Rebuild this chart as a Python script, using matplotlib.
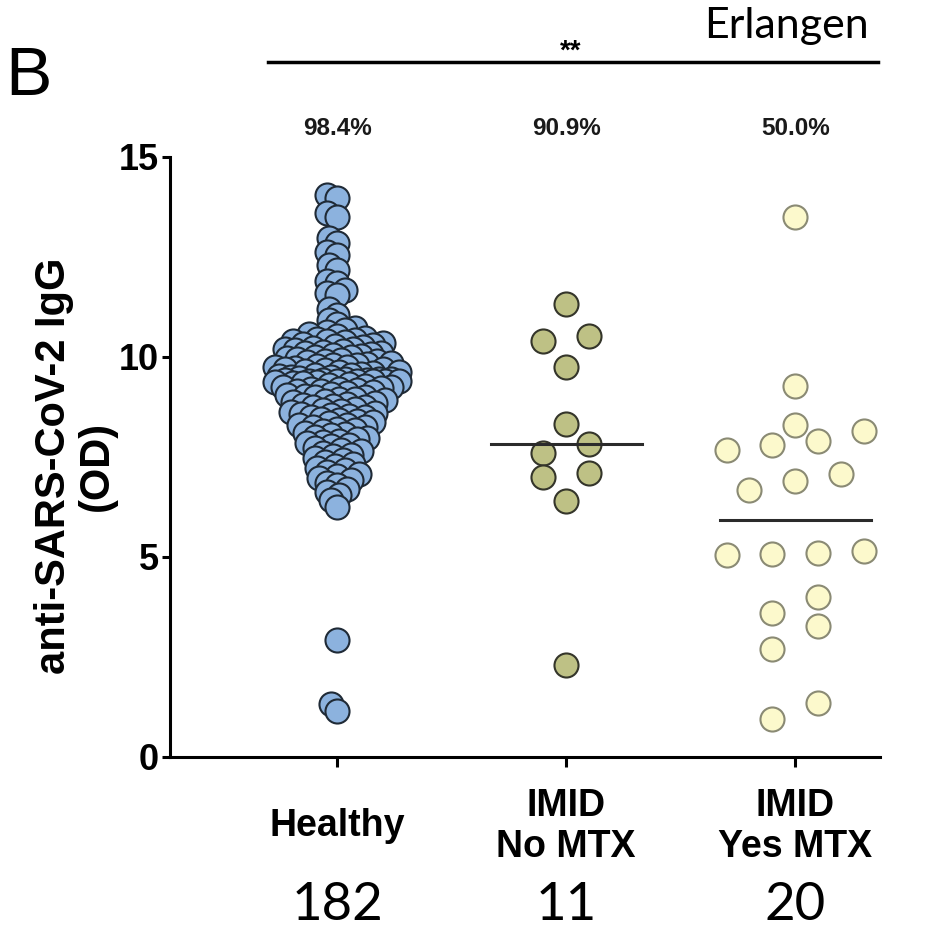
import numpy as np
import matplotlib
matplotlib.use('Agg')
import matplotlib.pyplot as plt

plt.rcParams['font.family'] = ['Liberation Sans', 'DejaVu Sans']

# group names, positivity and sample sizes
groups = ['Healthy', 'IMID\nNo MTX', 'IMID\nYes MTX']
percent_labels = ['98.4%', '90.9%', '50.0%']
count_labels = ['182', '11', '20']

# anti-SARS-CoV-2 IgG (OD)
healthy = [
    14.05, 13.97, 13.60, 13.50, 12.97, 12.85, 12.63, 12.55, 12.30, 12.18,
    11.90, 11.85, 11.67, 11.60, 11.55, 11.20, 11.05,
    10.93, 10.82, 10.72, 10.67, 10.62, 10.58, 10.53,
    10.48, 10.45, 10.43, 10.41, 10.39, 10.37, 10.34, 10.32, 10.30, 10.28, 10.26,
    10.23, 10.21, 10.19, 10.17, 10.15, 10.13, 10.11, 10.09, 10.07, 10.05, 10.03, 10.01,
    9.99, 9.97, 9.95, 9.93, 9.91, 9.89, 9.87, 9.85, 9.83, 9.81, 9.80, 9.78, 9.76,
    9.74, 9.72, 9.71, 9.69, 9.67, 9.65, 9.63, 9.62, 9.60, 9.58, 9.56, 9.54, 9.52, 9.51,
    9.49, 9.47, 9.46, 9.45, 9.44, 9.43, 9.42, 9.42, 9.41, 9.41, 9.40, 9.40, 9.40,
    9.39, 9.38, 9.37, 9.35, 9.34, 9.32, 9.30, 9.28, 9.26,
    9.24, 9.23, 9.21, 9.20, 9.18, 9.16, 9.14, 9.12, 9.10, 9.08, 9.05, 9.03, 9.01,
    8.99, 8.96, 8.94, 8.92, 8.90, 8.87, 8.85, 8.83, 8.80, 8.78, 8.76,
    8.74, 8.71, 8.68, 8.66, 8.63, 8.61, 8.58, 8.56, 8.53, 8.51,
    8.49, 8.46, 8.43, 8.40, 8.37, 8.34, 8.31, 8.29, 8.26,
    8.24, 8.21, 8.18, 8.15, 8.11, 8.08, 8.04, 8.01,
    7.98, 7.95, 7.91, 7.88, 7.84, 7.80, 7.77,
    7.72, 7.68, 7.64, 7.60, 7.56, 7.52,
    7.48, 7.43, 7.38, 7.33, 7.28,
    7.23, 7.18, 7.13, 7.08, 7.03,
    6.98, 6.92, 6.86, 6.79,
    6.71, 6.63, 6.55,
    6.42, 6.24,
    2.92, 1.32, 1.15,
]
no_mtx = [11.32, 10.53, 10.40, 9.75, 8.33, 7.83, 7.60, 7.10, 7.00, 6.40, 2.30]
yes_mtx = [13.51, 9.28, 8.31, 8.16, 7.90, 7.80, 7.67, 7.07, 6.90, 6.67,
           5.16, 5.10, 5.07, 5.06, 4.00, 3.60, 3.28, 2.70, 1.35, 0.95]

fill_colors = ['#8cb2de', '#bec185', '#fcf9cc']
edge_colors = ['#1f2a36', '#34352a', '#8a8a74']


def row_offsets(vals, row_h=0.59, step=0.1):
    # prism-style rows: points close in value share a row, spread symmetrically
    vals = np.asarray(vals, float)
    order = np.argsort(vals)
    off = np.zeros(len(vals))
    i = 0
    while i < len(order):
        j = i
        while j + 1 < len(order) and vals[order[j + 1]] - vals[order[i]] < row_h:
            j += 1
        n = j - i + 1
        for k in range(n):
            off[order[i + k]] = (k - (n - 1) / 2) * 2 * step
        i = j + 1
    return off


def packed_offsets(vals, sx, sy, gap, max_half, step=2.0):
    # greedy swarm in pixel space, overlapping once the width limit is hit
    vals = np.asarray(vals, float)
    cand = np.arange(-max_half, max_half + 0.01, step)
    cand = cand[np.argsort(np.abs(cand), kind='stable')]
    px, py = [], []
    off = np.zeros(len(vals))
    for idx in np.argsort(vals):
        y = vals[idx] * sy
        c = 0.0
        if px:
            ax_ = np.array(px)
            ay_ = np.array(py)
            near = np.abs(ay_ - y) < gap
            if near.any():
                dx = cand[:, None] - ax_[near][None, :]
                dy = (ay_[near] - y)[None, :]
                d = np.sqrt(dx ** 2 + dy ** 2).min(axis=1)
                ok = np.nonzero(d >= gap)[0]
                c = cand[ok[0]] if len(ok) else cand[np.argmax(d)]
        px.append(c)
        py.append(y)
        off[idx] = c / sx
    return off


fig = plt.figure(figsize=(9.36, 9.36), dpi=100)
ax = fig.add_axes([170 / 936, 1 - 757 / 936, 710 / 936, 600 / 936])
ax.set_xlim(-0.73, 2.37)
ax.set_ylim(0, 15)

sx = 710 / (2.37 + 0.73)   # px per x unit
sy = 600 / 15              # px per y unit

data = [healthy, no_mtx, yes_mtx]
offsets = [packed_offsets(healthy, sx, sy, gap=9, max_half=62),
           row_offsets(no_mtx),
           row_offsets(yes_mtx)]

for i, vals in enumerate(data):
    ax.scatter(i + offsets[i], vals, s=300, color=fill_colors[i],
               edgecolors=edge_colors[i], linewidths=1.5, zorder=3,
               clip_on=False)

# medians for the two IMID groups
for i in [1, 2]:
    m = np.median(data[i])
    ax.plot([i - 0.33, i + 0.33], [m, m], color='#2b2b2b', lw=2.2, zorder=4)

for s in ['top', 'right']:
    ax.spines[s].set_visible(False)
for s in ['left', 'bottom']:
    ax.spines[s].set_linewidth(2.2)

ax.set_yticks([0, 5, 10, 15])
ax.tick_params(axis='y', length=6, width=2.2, pad=2, labelsize=26)
ax.tick_params(axis='x', length=7, width=2.2, pad=43, labelsize=27)
ax.set_xticks(range(3))
ax.set_xticklabels(groups, fontweight='bold', va='center', linespacing=1.2)
for lab in ax.get_yticklabels():
    lab.set_fontweight('bold')

ax.set_ylabel('anti-SARS-CoV-2 IgG\n(OD)', fontsize=30, fontweight='bold',
              va='center', linespacing=1.1)
ax.yaxis.set_label_coords(-0.133, 0.485)

tr = ax.get_xaxis_transform()
for i in range(3):
    ax.text(i, 1.048, percent_labels[i], transform=tr, ha='center', va='center',
            fontsize=17.5, fontweight='bold', color='#1a1a1a')
    ax.text(i, -0.247, count_labels[i], transform=tr, ha='center', va='center',
            fontsize=38, family=['Lato', 'DejaVu Sans'])

# significance bar
ax.plot([-0.30, 2.36], [1.158, 1.158], transform=tr, color='black', lw=2.5,
        clip_on=False)
ax.text(1.02, 1.176, '**', transform=tr, ha='center', va='center',
        fontsize=20, fontweight='bold')

fig.text(787 / 936, 1 - 38 / 936, 'Erlangen', ha='center', va='baseline',
         fontsize=31, family=['Lato', 'DejaVu Sans'])
fig.text(28 / 936, 1 - 95 / 936, 'B', ha='center', va='baseline',
         fontsize=50, family=['Liberation Sans Narrow', 'Liberation Sans'])

fig.savefig('out.png', dpi=100)
